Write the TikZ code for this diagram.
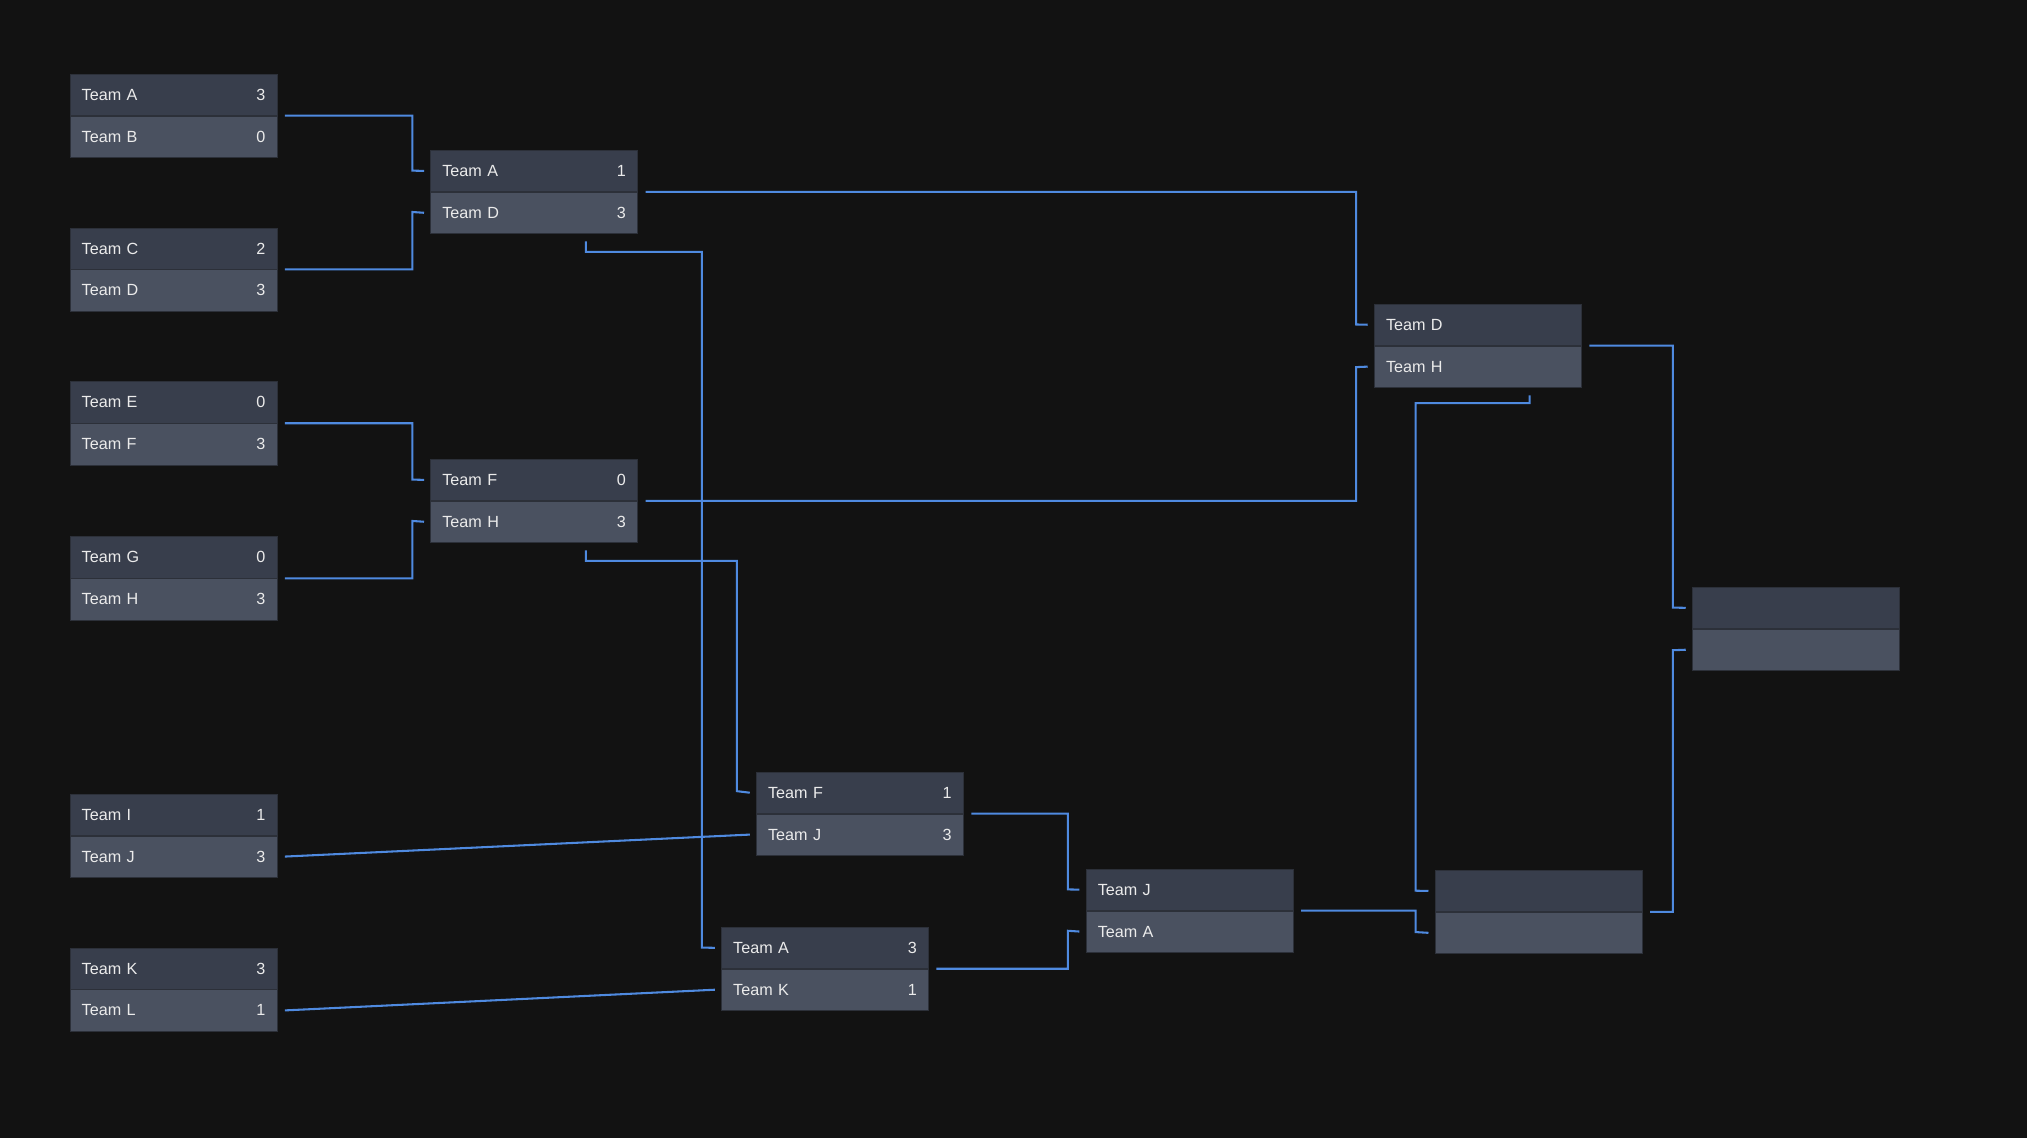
\documentclass[tikz,border=0pt]{standalone}
\usepackage{fontspec}
\setmainfont{Liberation Sans}
\usetikzlibrary{positioning}
\definecolor{bgdark}{HTML}{121212}
\definecolor{rowtop}{HTML}{383E4C}
\definecolor{rowbot}{HTML}{4A5160}
\definecolor{rowline}{HTML}{2C3039}
\definecolor{linkblue}{HTML}{4F8AE0}
\tikzset{
  row/.style = {anchor = north west, minimum height = 32pt, text width = 142pt, inner xsep = 9pt,
    inner ysep = 0pt, draw = rowline, text = white!92!black, font = \fontsize{12.5}{14}\selectfont},
  toprow/.style = {row, fill = rowtop},
  botrow/.style = {row, fill = rowbot},
  link/.style = {draw = linkblue, line width = 1.6pt},
}
% match box: name, x, y, team1, score1, team2, score2
\newcommand{\matchbox}[7]{%
  \node[toprow] (#1a) at (#2,#3) {#4\hfill #5};
  \node[botrow, below = 0pt of #1a.south west, anchor = north west] (#1b) {#6\hfill #7};
}
\begin{document}
\begin{tikzpicture}[x = 1pt, y = -1pt]
\useasboundingbox (0,0) rectangle (1568,880);
\fill[bgdark] (0,0) rectangle (1568,880);
% first round
\matchbox{m1}{54}{57}{Team A}{3}{Team B}{0}
\matchbox{m2}{54}{176}{Team C}{2}{Team D}{3}
\matchbox{m3}{54}{295}{Team E}{0}{Team F}{3}
\matchbox{m4}{54}{415}{Team G}{0}{Team H}{3}
\matchbox{m5}{54}{614}{Team I}{1}{Team J}{3}
\matchbox{m6}{54}{733}{Team K}{3}{Team L}{1}
% upper rounds
\matchbox{q1}{333}{116}{Team A}{1}{Team D}{3}
\matchbox{q2}{333}{355}{Team F}{0}{Team H}{3}
\matchbox{s1}{1063}{235}{Team D}{}{Team H}{}
\matchbox{fin}{1309}{454}{}{}{}{}
% lower rounds
\matchbox{l1}{585}{597}{Team F}{1}{Team J}{3}
\matchbox{l2}{558}{717}{Team A}{3}{Team K}{1}
\matchbox{l3}{840}{672}{Team J}{}{Team A}{}
\matchbox{l4}{1110}{673}{}{}{}{}
% connectors
\draw[link] ([xshift=6pt]m1a.south east) -| (319,132) -- ([xshift=-5pt]q1a.west);
\draw[link] ([xshift=6pt]m2a.south east) -| (319,164) -- ([xshift=-5pt]q1b.west);
\draw[link] ([xshift=6pt]m3a.south east) -| (319,371) -- ([xshift=-5pt]q2a.west);
\draw[link] ([xshift=6pt]m4a.south east) -| (319,403) -- ([xshift=-5pt]q2b.west);
\draw[link] ([xshift=6pt]q1a.south east) -| (1049,251) -- ([xshift=-5pt]s1a.west);
\draw[link] ([xshift=6pt]q2a.south east) -| (1049,284) -- ([xshift=-5pt]s1b.west);
\draw[link] ([xshift=40pt,yshift=-6pt]q1b.south) -- ++(0,8) -| (543,733) -- ([xshift=-5pt]l2a.west);
\draw[link] ([xshift=40pt,yshift=-6pt]q2b.south) -- ++(0,8) -| (570,612) -- ([xshift=-5pt]l1a.west);
\draw[link] ([xshift=6pt]m5b.west -| m5b.east) -- ([xshift=-5pt]l1b.west);
\draw[link] ([xshift=6pt]m6b.west -| m6b.east) -- ([xshift=-5pt]l2b.west);
\draw[link] ([xshift=6pt]l1a.south east) -| (826,688) -- ([xshift=-5pt]l3a.west);
\draw[link] ([xshift=6pt]l2a.south east) -| (826,720) -- ([xshift=-5pt]l3b.west);
\draw[link] ([xshift=6pt]l3a.south east) -| (1095,721) -- ([xshift=-5pt]l4b.west);
\draw[link] ([xshift=40pt,yshift=-6pt]s1b.south) -- ++(0,6) -| (1095,689) -- ([xshift=-5pt]l4a.west);
\draw[link] ([xshift=6pt]s1a.south east) -| (1294,470) -- ([xshift=-5pt]fina.west);
\draw[link] ([xshift=6pt]l4a.south east) -| (1294,503) -- ([xshift=-5pt]finb.west);
\end{tikzpicture}
\end{document}
